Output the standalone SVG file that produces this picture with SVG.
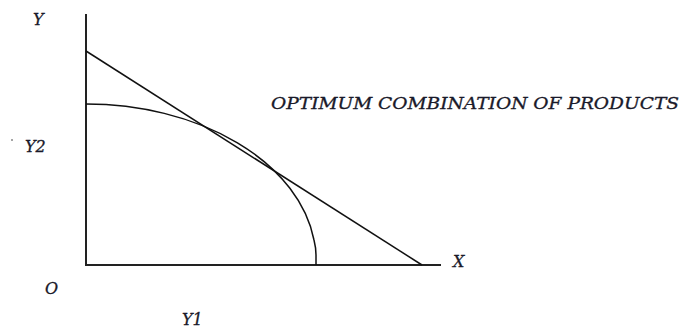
<svg xmlns="http://www.w3.org/2000/svg" width="682" height="329" viewBox="0 0 682 329">
<style>
.ax{stroke:#222;stroke-width:2;fill:none}
.ln{stroke:#111;stroke-width:1.5;fill:none}
.t{font-family:"DejaVu Serif","Liberation Serif",serif;font-style:italic;font-size:16px;fill:#1a1a2a;stroke:#1a1a2a;stroke-width:0.3}
</style>
<rect width="682" height="329" fill="#fff"/>
<g id="axes">
<path class="ax" d="M86,14 V265 H441"/>
</g>
<g id="connectors">
<path id="budget-line" class="ln" d="M86,51 L422,265"/>
<path id="ppc" class="ln" d="M86,104 A230,157 0 0 1 314,240 Q316,248 316,255 L316,265"/>
</g>
<g id="labels">
<text class="t" x="33" y="25">Y</text>
<circle cx="12" cy="140" r="0.8" fill="#333"/>
<text class="t" x="25" y="152">Y2</text>
<text class="t" x="45" y="294">O</text>
<text class="t" x="182" y="325">Y1</text>
<text class="t" x="453" y="267">X</text>
<text class="t" x="271" y="109" font-size="15" textLength="408" lengthAdjust="spacingAndGlyphs">OPTIMUM COMBINATION OF PRODUCTS</text>
</g>
</svg>
